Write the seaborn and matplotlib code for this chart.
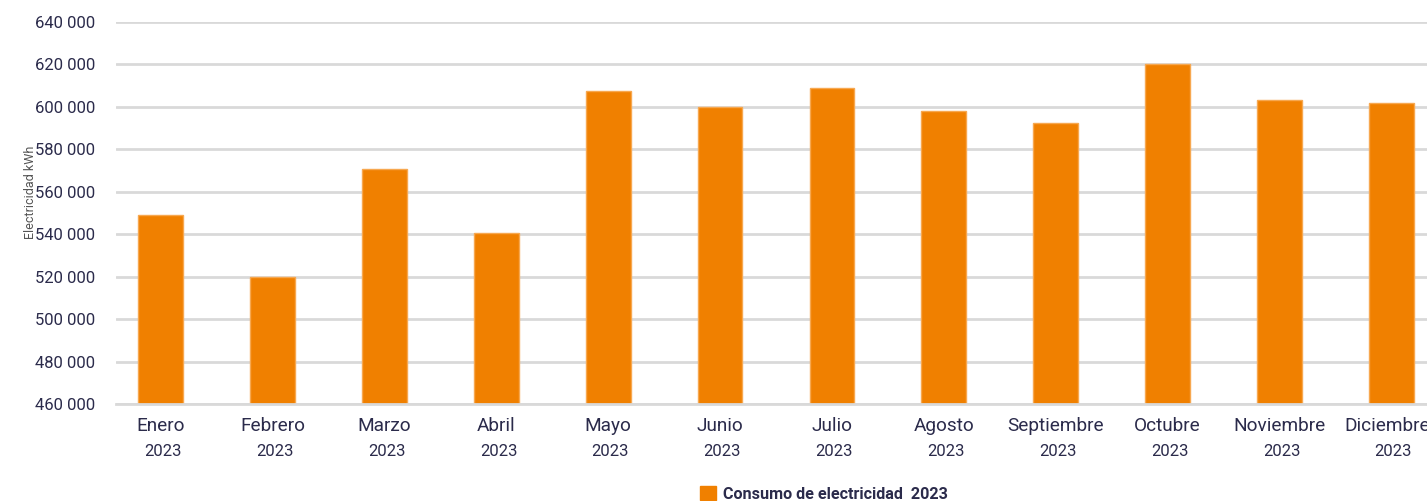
import matplotlib
matplotlib.use("Agg")
import matplotlib.pyplot as plt
import matplotlib.ticker as mticker
from matplotlib.patches import Patch
import seaborn as sns
import pandas as pd

months = ["Enero", "Febrero", "Marzo", "Abril", "Mayo", "Junio", "Julio",
          "Agosto", "Septiembre", "Octubre", "Noviembre", "Diciembre"]
year = "2023"
consumo = [549100, 519800, 570800, 540600, 607700, 600000, 609000,
           598200, 592500, 620300, 603100, 601900]
y_ticks = [460000, 480000, 500000, 520000, 540000, 560000, 580000,
           600000, 620000, 640000]
series_label = "Consumo de electricidad  2023"
y_label = "Electricidad kWh"

orange = "#F08000"
ink = "#2B2B4B"
grid = "#D9D9D9"

sns.set_theme(style="white")
plt.rcParams["font.family"] = ["Roboto", "DejaVu Sans"]

df = pd.DataFrame({"mes": months, "kwh": consumo})

W, H = 1427, 501
fig = plt.figure(figsize=(W / 100, H / 100), dpi=100)
ax = fig.add_axes([116 / W, (H - 404) / H, 1320 / W, 382 / H])

sns.barplot(data=df, x="mes", y="kwh", color=orange, width=0.4,
            edgecolor="#F7A850", linewidth=1, saturation=1, ax=ax, zorder=3)

ax.set_xlim(-0.4, len(months) - 0.6)
ax.set_ylim(y_ticks[0], y_ticks[-1])
ax.set_yticks(y_ticks)
ax.yaxis.set_major_formatter(
    mticker.FuncFormatter(lambda v, p: f"{int(v):,}".replace(",", " ")))
ax.yaxis.grid(True, color=grid, linewidth=2)
ax.set_axisbelow(True)
for s in ["top", "right", "left"]:
    ax.spines[s].set_visible(False)
ax.spines["bottom"].set_color(grid)
ax.spines["bottom"].set_linewidth(2)
ax.spines["bottom"].set_zorder(4)

ax.tick_params(axis="y", length=0, pad=15, labelsize=12, labelcolor=ink)
ax.tick_params(axis="x", length=0, labelbottom=False)
ax.set_xlabel("")
ax.set_ylabel("")

# month name and year under each bar, on common baselines;
# the last month name is nudged left to stay inside the frame
trans = matplotlib.transforms.blended_transform_factory(ax.transData, fig.transFigure)
for i, m in enumerate(months):
    nudge = -0.04 if i == len(months) - 1 else 0.0
    ax.text(i + nudge, 1 - 431 / H, m, transform=trans, ha="center", va="baseline",
            fontsize=13.7, color=ink)
    ax.text(i + 0.02, 1 - 456 / H, year, transform=trans, ha="center", va="baseline",
            fontsize=12, color=ink)

fig.text(30 / W, 1 - 192 / H, y_label, rotation=90, ha="center", va="center",
         fontsize=9, color="#555555")

fig.legend(handles=[Patch(facecolor=orange, edgecolor=orange)],
           labels=[series_label], loc="center", bbox_to_anchor=(824 / W, 1 - 494 / H),
           frameon=False, handlelength=0.95, handleheight=0.95, handletextpad=0.45,
           prop={"weight": "bold", "size": 11.6}, labelcolor=ink)

fig.savefig("out.png", dpi=100, facecolor="white")
